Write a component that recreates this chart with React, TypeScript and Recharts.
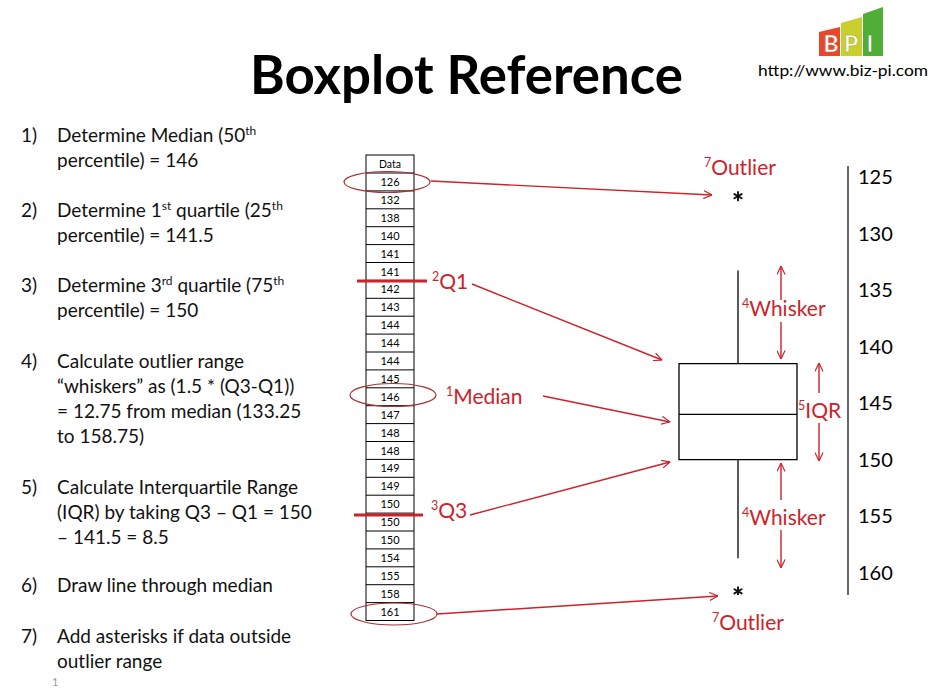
import React from 'react';
import { ComposedChart, XAxis, YAxis, ReferenceArea, ReferenceLine, Scatter } from 'recharts';

// ---------- data ----------
const dataValues = [126, 132, 138, 140, 141, 141, 142, 143, 144, 144, 144, 145, 146, 147, 148, 148, 149, 149, 150, 150, 150, 154, 155, 158, 161];
const axisTicks = [125, 130, 135, 140, 145, 150, 155, 160];
const quartiles = [141.5, 146, 150]; // Q1, median, Q3
const whiskers = [133.25, 158.75];
const outliers = [126, 161];

type Seg = [string, boolean?];
const stepNumbers = ['1)', '2)', '3)', '4)', '5)', '6)', '7)'];
const stepLines: Seg[][][] = [
  [[['Determine Median (50'], ['th', true]], [['percentile) = 146']]],
  [[['Determine 1'], ['st', true], [' quartile (25'], ['th', true]], [['percentile) = 141.5']]],
  [[['Determine 3'], ['rd', true], [' quartile (75'], ['th', true]], [['percentile) = 150']]],
  [[['Calculate outlier range']], [['\u201Cwhiskers\u201D as (1.5 * (Q3-Q1))']], [['= 12.75 from median (133.25']], [['to 158.75)']]],
  [[['Calculate Interquartile Range']], [['(IQR) by taking Q3 \u2013 Q1 = 150']], [['\u2013 141.5 = 8.5']]],
  [[['Draw line through median']]],
  [[['Add asterisks if data outside']], [['outlier range']]],
];
const stepBaselines = [142, 217, 292, 368, 494, 592, 643];

const FONT = 'Lato, "Open Sans", sans-serif';
const RED = '#cc2229';
const DARKRED = '#a83232';

const BOX_X = 738;
const BOX_HALF = 59;

function renderSegs(segs: Seg[], supSize: number, supShift: number) {
  let shifted = false;
  return segs.map(([t, sup], i) => {
    let dy = 0;
    if (sup && !shifted) { dy = -supShift; shifted = true; }
    else if (!sup && shifted) { dy = supShift; shifted = false; }
    return (
      <tspan key={i} dy={dy} fontSize={sup ? supSize : undefined}>{t}</tspan>
    );
  });
}

const AsteriskShape = (props: any) => {
  const cx = props.cx;
  const cy = props.cy + 7.6;
  const r = 4.2;
  const spokes = [90, 30, 150].map((a) => {
    const rad = (a * Math.PI) / 180;
    return { dx: r * Math.cos(rad), dy: r * Math.sin(rad) };
  });
  return (
    <g>
      {spokes.map((s, i) => (
        <line key={i} x1={cx - s.dx} y1={cy - s.dy} x2={cx + s.dx} y2={cy + s.dy} stroke="#111" strokeWidth={1.9} strokeLinecap="round" />
      ))}
    </g>
  );
};

function Label({ x, y, sup, text }: { x: number; y: number; sup: string; text: string }) {
  return (
    <text x={x} y={y} fontFamily={FONT} fontSize={21} fill={RED} style={{ whiteSpace: 'pre' }}>
      <tspan fontSize={12.5} dy={-8}>{sup}</tspan>
      <tspan dy={8}>{text}</tspan>
    </text>
  );
}

const arrows: [number, number, number, number][] = [
  [431, 181, 712, 195],
  [472, 284, 662, 360],
  [543, 396, 670, 422],
  [470, 515, 670, 462],
  [437, 614, 718, 596],
  [781, 300, 781, 266],
  [781, 322, 781, 359],
  [819, 393, 819, 363],
  [819, 423, 819, 461],
  [781, 500, 781, 463],
  [781, 530, 781, 568],
];

export default function App() {
  const TX = 366, TW = 48, TTOP = 155, HEAD_H = 18, ROW_H = 17.9;
  const tableBottom = TTOP + HEAD_H + dataValues.length * ROW_H;
  return (
    <div style={{ position: 'absolute', left: 0, top: 0, width: 936, height: 697, background: '#fff', overflow: 'hidden' }}>
      <div style={{ position: 'absolute', left: 0, top: 0 }}>
        <ComposedChart width={936} height={697} margin={{ top: 166, right: 28, bottom: 102, left: 0 }}>
          <XAxis type="number" dataKey="x" domain={[0, 848]} hide allowDataOverflow />
          <YAxis
            type="number"
            dataKey="y"
            orientation="right"
            domain={[124, 162]}
            reversed
            ticks={axisTicks}
            interval={0}
            tickLine={false}
            axisLine={{ stroke: '#333', strokeWidth: 1.5 }}
            tick={{ fill: '#000', fontSize: 20, fontFamily: FONT }}
            tickMargin={4}
            width={60}
            allowDataOverflow
          />
          <ReferenceLine segment={[{ x: BOX_X, y: whiskers[0] }, { x: BOX_X, y: quartiles[0] }]} stroke="#222" strokeWidth={1.5} ifOverflow="visible" />
          <ReferenceLine segment={[{ x: BOX_X, y: quartiles[2] }, { x: BOX_X, y: whiskers[1] }]} stroke="#222" strokeWidth={1.5} ifOverflow="visible" />
          <ReferenceArea x1={BOX_X - BOX_HALF} x2={BOX_X + BOX_HALF} y1={quartiles[0]} y2={quartiles[2]} fill="#fff" fillOpacity={1} stroke="#000" strokeWidth={1.3} ifOverflow="visible" />
          <ReferenceLine segment={[{ x: BOX_X - BOX_HALF, y: quartiles[1] }, { x: BOX_X + BOX_HALF, y: quartiles[1] }]} stroke="#000" strokeWidth={1.3} ifOverflow="visible" />
          <Scatter data={outliers.map((v) => ({ x: BOX_X, y: v }))} dataKey="y" shape={AsteriskShape} isAnimationActive={false} />
        </ComposedChart>
      </div>
      <svg style={{ position: 'absolute', left: 0, top: 0 }} width={936} height={697}>
        <defs>
          <marker id="ah" viewBox="0 0 10 10" refX="9.5" refY="5" markerWidth="9" markerHeight="9" orient="auto" markerUnits="userSpaceOnUse">
            <path d="M0,0.5 L9.5,5 L0,9.5" fill="none" stroke={RED} strokeWidth="1.3" />
          </marker>
        </defs>
        {/* title */}
        <text x={250} y={94} fontFamily={FONT} fontWeight={700} fontSize={53} fill="#000" textLength={433} lengthAdjust="spacingAndGlyphs">Boxplot Reference</text>
        {/* logo */}
        <polygon points="819,32 840,27 840,56 819,56" fill="#e8472c" />
        <polygon points="841,23 862,17 862,56 841,56" fill="#c9cf2f" />
        <polygon points="863,14 883,7 883,56 863,56" fill="#4fae35" />
        <text x={831} y={52} textAnchor="middle" fontFamily={FONT} fontWeight={700} fontSize={23} fill="#fff" stroke="#c06040" strokeWidth={0.5}>B</text>
        <text x={851} y={52} textAnchor="middle" fontFamily={FONT} fontWeight={700} fontSize={23} fill="#fff" stroke="#a0a030" strokeWidth={0.5}>P</text>
        <text x={870} y={52} textAnchor="middle" fontFamily={FONT} fontWeight={700} fontSize={23} fill="#fff" stroke="#3a8a2a" strokeWidth={0.5}>I</text>
        <text x={758} y={76} fontFamily={FONT} fontSize={16} fill="#000" textLength={170} lengthAdjust="spacingAndGlyphs">http://www.biz-pi.com</text>
        {/* steps */}
        {stepLines.map((lines, i) => (
          <g key={i}>
            <text x={21} y={stepBaselines[i]} fontFamily={FONT} fontSize={19} fill="#111">{stepNumbers[i]}</text>
            {lines.map((segs, j) => (
              <text key={j} x={57} y={stepBaselines[i] + j * 25} fontFamily={FONT} fontSize={19} fill="#111" style={{ whiteSpace: 'pre' }}>
                {renderSegs(segs, 12, 7)}
              </text>
            ))}
          </g>
        ))}
        <text x={52} y={686} fontFamily={FONT} fontSize={11} fill="#999">1</text>
        {/* table */}
        <rect x={TX} y={TTOP} width={TW} height={tableBottom - TTOP} fill="#fff" stroke="#000" strokeWidth={1} />
        <text x={TX + TW / 2} y={TTOP + 13} textAnchor="middle" fontFamily={FONT} fontSize={10.5} fill="#000">Data</text>
        {dataValues.map((v, i) => {
          const top = TTOP + HEAD_H + i * ROW_H;
          return (
            <g key={i}>
              <line x1={TX} x2={TX + TW} y1={top} y2={top} stroke="#000" strokeWidth={1} />
              <text x={TX + TW / 2} y={top + 13} textAnchor="middle" fontFamily={FONT} fontSize={11} fill="#000">{v}</text>
            </g>
          );
        })}
        {/* Q1 / Q3 bars */}
        <line x1={357} x2={427} y1={281} y2={281} stroke={RED} strokeWidth={3} />
        <line x1={354} x2={423} y1={515} y2={515} stroke={RED} strokeWidth={3} />
        {/* ellipses */}
        <ellipse cx={387} cy={182} rx={43} ry={10.5} fill="none" stroke={DARKRED} strokeWidth={1.2} />
        <ellipse cx={393} cy={395} rx={43} ry={11.5} fill="none" stroke={DARKRED} strokeWidth={1.2} />
        <ellipse cx={394} cy={614} rx={43} ry={11} fill="none" stroke={DARKRED} strokeWidth={1.2} />
        {/* arrows */}
        {arrows.map(([x1, y1, x2, y2], i) => (
          <line key={i} x1={x1} y1={y1} x2={x2} y2={y2} stroke={RED} strokeWidth={1.4} markerEnd="url(#ah)" />
        ))}
        {/* labels */}
        <Label x={704} y={175} sup="7" text="Outlier" />
        <Label x={712} y={630} sup="7" text="Outlier" />
        <Label x={742} y={316} sup="4" text="Whisker" />
        <Label x={742} y={525} sup="4" text="Whisker" />
        <Label x={798} y={418} sup="5" text="IQR" />
        <Label x={432} y={289} sup="2" text="Q1" />
        <Label x={446} y={404} sup="1" text="Median" />
        <Label x={431} y={518} sup="3" text="Q3" />
      </svg>
    </div>
  );
}
